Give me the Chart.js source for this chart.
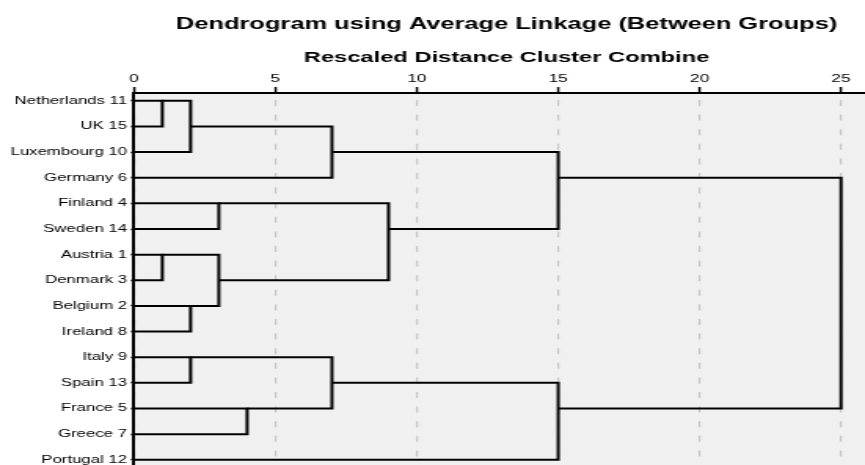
<!DOCTYPE html>
<html>
<head>
<meta charset="utf-8">
<script src="https://cdn.jsdelivr.net/npm/chart.js@4/dist/chart.umd.min.js"></script>
<style>
  html, body { margin: 0; padding: 0; overflow: hidden; background: #ffffff; width: 865px; height: 465px; }
  #c { display: block; transform: scaleX(1.56987); transform-origin: 0 0; }
</style>
</head>
<body>
<canvas id="c" width="560" height="465"></canvas>
<script>
// ---- data ----
const countries = ['Netherlands 11', 'UK 15', 'Luxembourg 10', 'Germany 6', 'Finland 4', 'Sweden 14',
  'Austria 1', 'Denmark 3', 'Belgium 2', 'Ireland 8', 'Italy 9', 'Spain 13', 'France 5', 'Greece 7', 'Portugal 12'];
// merge i joins node mergeLeft[i] and mergeRight[i] into new node (countries.length + i)
const mergeLeft     = [0, 6, 15, 8, 10, 4, 16, 12, 17, 19, 20, 23, 24, 26];
const mergeRight    = [1, 7, 2, 9, 11, 5, 18, 13, 3, 22, 21, 25, 14, 27];
const mergeDistance = [1, 1, 2, 2, 2, 3, 3, 4, 7, 7, 9, 15, 15, 25];
const distanceTicks = [0, 5, 10, 15, 20, 25];

const titleText = 'Dendrogram using Average Linkage (Between Groups)';
const axisTitle = 'Rescaled Distance Cluster Combine';

// ---- build dendrogram paths from merges ----
const nodeRow = countries.map((_, i) => i);
const nodeDist = countries.map(() => 0);
const datasets = [];
mergeLeft.forEach((a, i) => {
  const b = mergeRight[i];
  const d = mergeDistance[i];
  datasets.push({
    data: [
      {x: nodeDist[a], y: nodeRow[a]},
      {x: d, y: nodeRow[a]},
      {x: d, y: nodeRow[b]},
      {x: nodeDist[b], y: nodeRow[b]}
    ],
    showLine: true,
    borderColor: '#000000',
    borderWidth: 2,
    pointRadius: 0,
    pointHoverRadius: 0,
    fill: false,
    tension: 0,
    borderJoinStyle: 'miter'
  });
  nodeRow.push(Math.floor((nodeRow[a] + nodeRow[b]) / 2));
  nodeDist.push(d);
});

const FONT = '"Liberation Sans", Arial, Helvetica, sans-serif';
const UNIT = (535.71 - 85.36) / 25;
const AREA_LEFT = 85.36;
const AREA_RIGHT = 560;
const TITLE_BOX = 14.5 + 16.2 * 1.2;

const plotBg = {
  id: 'plotBg',
  beforeDraw(chart) {
    const {ctx, chartArea: a} = chart;
    ctx.save();
    ctx.fillStyle = '#f0f0f0';
    ctx.fillRect(a.left, a.top, a.right - a.left, a.bottom - a.top);
    ctx.restore();
  }
};

new Chart(document.getElementById('c'), {
  type: 'scatter',
  data: { datasets },
  plugins: [plotBg],
  options: {
    responsive: false,
    animation: false,
    devicePixelRatio: 1,
    layout: { padding: 0 },
    plugins: {
      legend: { display: false },
      tooltip: { enabled: false },
      title: {
        display: true,
        text: titleText,
        fullSize: false,
        color: '#000000',
        font: { family: FONT, size: 16.2, weight: 'bold', lineHeight: 1.2 },
        padding: { top: 14.5, bottom: 0 }
      }
    },
    scales: {
      x: {
        type: 'linear',
        position: 'top',
        min: 0,
        max: (AREA_RIGHT - AREA_LEFT) / UNIT,
        afterBuildTicks(scale) { scale.ticks = distanceTicks.map(v => ({value: v})); },
        afterFit(scale) { scale.height = 93 - TITLE_BOX; scale.paddingLeft = 0; scale.paddingRight = 0; },
        ticks: {
          color: '#000000',
          font: { family: FONT, size: 11 },
          padding: 1.5,
          maxRotation: 0,
          autoSkip: false,
          includeBounds: false
        },
        grid: {
          color: '#c4c4c4',
          lineWidth: 1.15,
          drawTicks: true,
          tickLength: 6,
          tickColor: '#000000',
          tickWidth: 1.5,
          tickBorderDash: []
        },
        border: { display: true, color: '#000000', width: 2, dash: [6, 8.6], dashOffset: 8.6 },
        title: {
          display: true,
          text: axisTitle,
          color: '#000000',
          font: { family: FONT, size: 15.1, weight: 'bold', lineHeight: 1.2 },
          padding: { top: 15.3, bottom: 0 }
        }
      },
      y: {
        type: 'linear',
        position: 'left',
        reverse: true,
        min: -0.304,
        max: 14.203,
        afterBuildTicks(scale) { scale.ticks = countries.map((_, i) => ({value: i})); },
        afterFit(scale) { scale.width = AREA_LEFT; scale.paddingTop = 0; scale.paddingBottom = 0; },
        ticks: {
          color: '#000000',
          font: { family: FONT, size: 10.7 },
          padding: 2.4,
          autoSkip: false,
          includeBounds: false,
          callback: (v) => countries[v] !== undefined ? countries[v] : ''
        },
        grid: {
          drawOnChartArea: false,
          drawTicks: true,
          tickLength: 2,
          tickColor: '#000000',
          tickWidth: 1.5
        },
        border: { display: true, color: '#000000', width: 2 }
      }
    }
  }
});
</script>
</body>
</html>
